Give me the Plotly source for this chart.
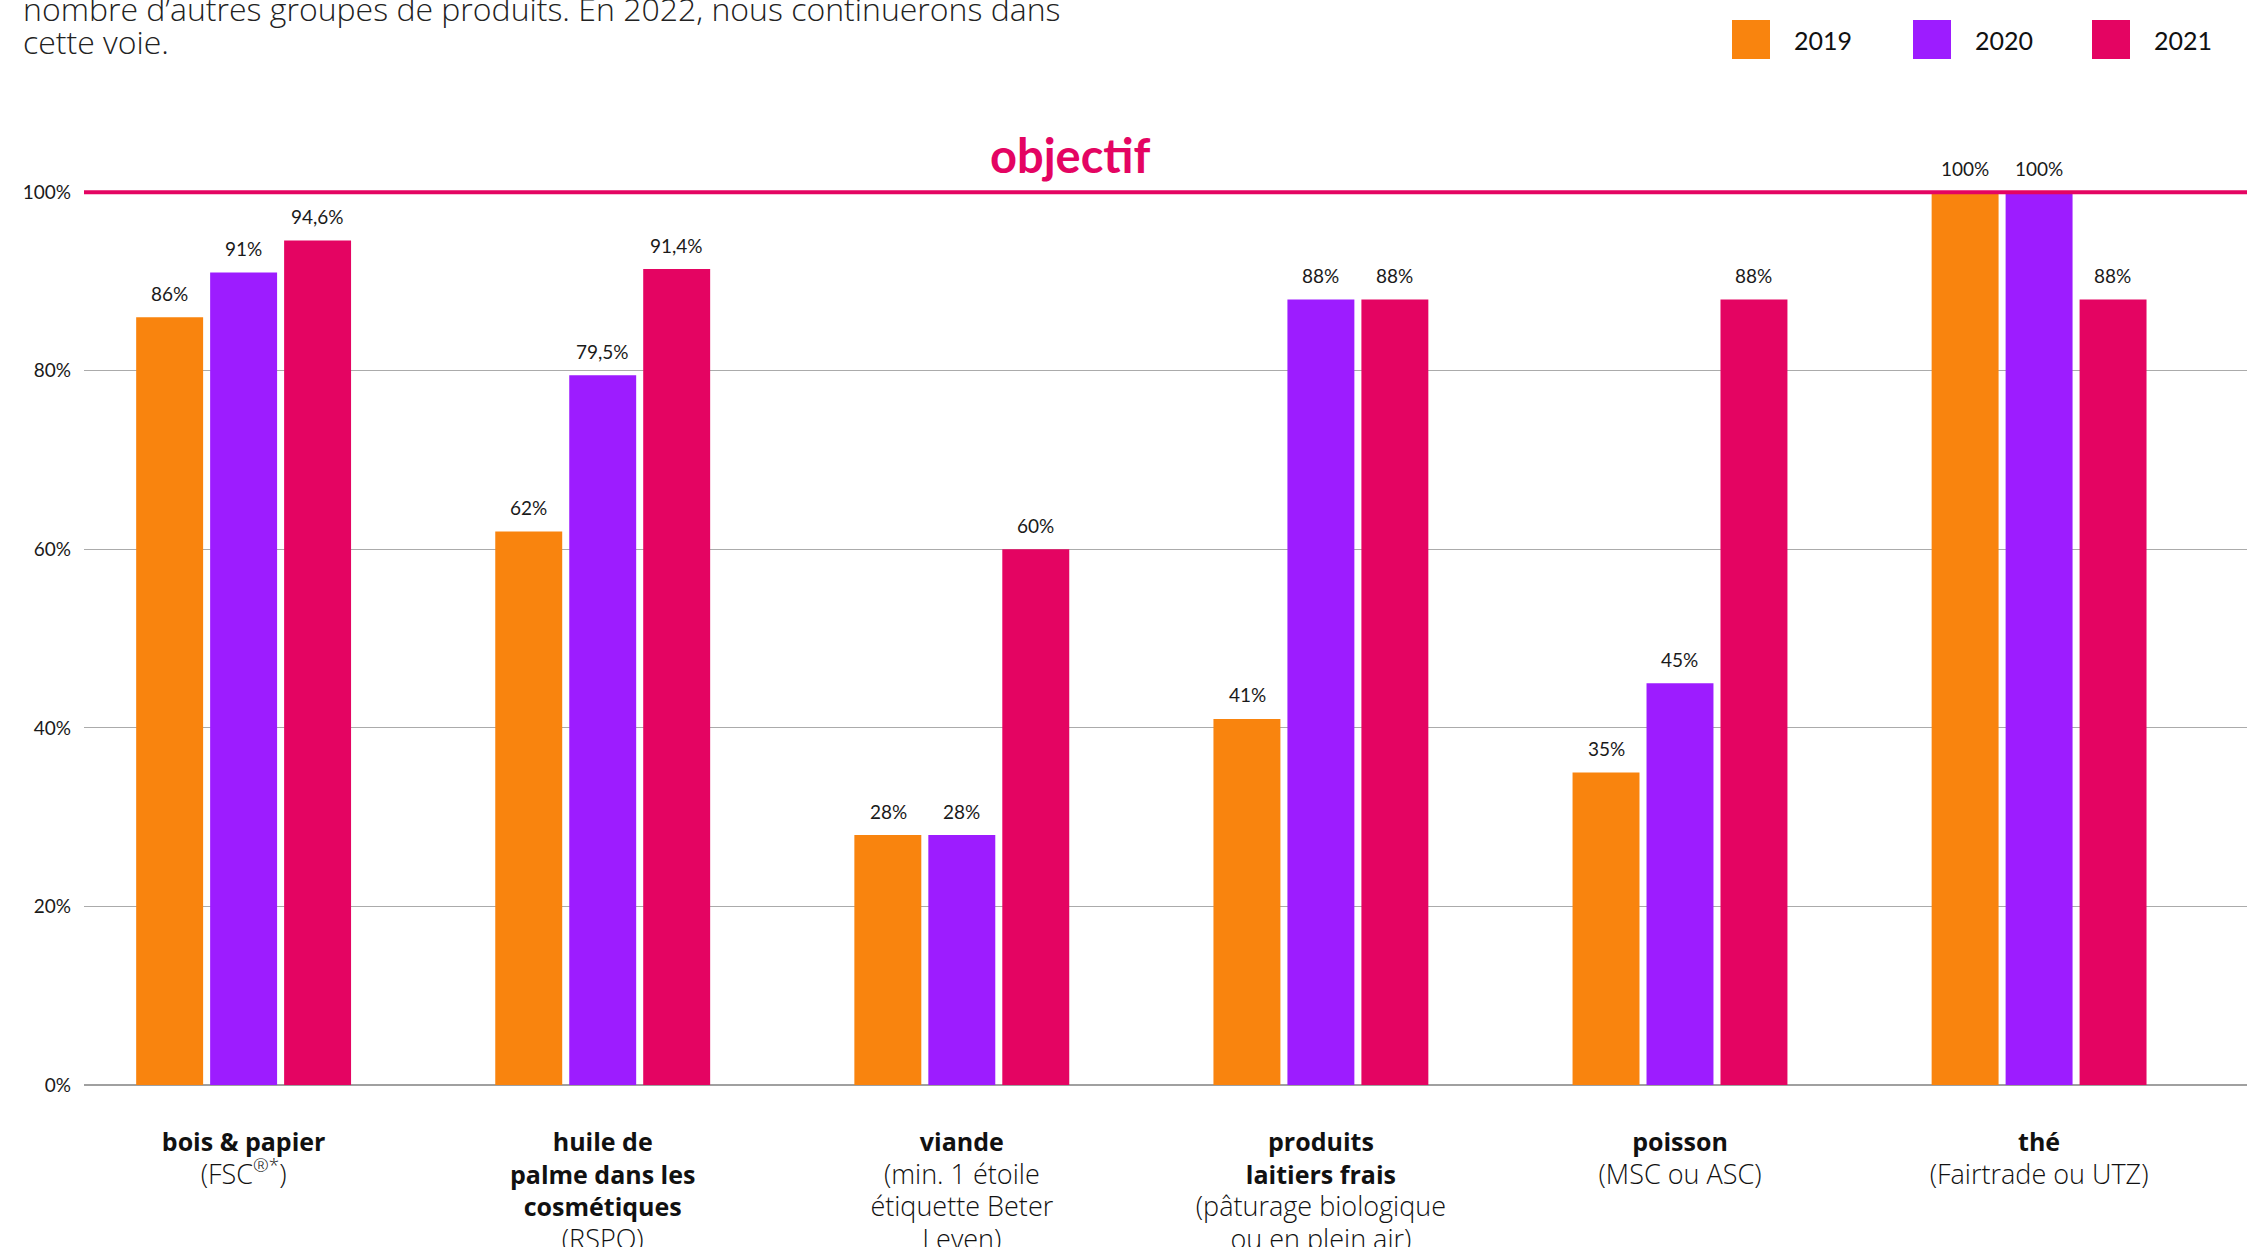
import plotly.graph_objects as go

# ---------------- data ----------------
categories = ["bois & papier", "huile de palme", "viande", "produits laitiers frais", "poisson", "thé"]
cat_bold_lines = [
    ["bois & papier"],
    ["huile de", "palme dans les", "cosmétiques"],
    ["viande"],
    ["produits", "laitiers frais"],
    ["poisson"],
    ["thé"],
]
cat_sub_lines = [
    ["(FSC<sup>®*</sup>)"],
    ["(RSPO)"],
    ["(min. 1 étoile", "étiquette Beter", "Leven)"],
    ["(pâturage biologique", "ou en plein air)"],
    ["(MSC ou ASC)"],
    ["(Fairtrade ou UTZ)"],
]
years = ["2019", "2020", "2021"]
values_2019 = [86, 62, 28, 41, 35, 100]
values_2020 = [91, 79.5, 28, 88, 45, 100]
values_2021 = [94.6, 91.4, 60, 88, 88, 88]
series_values = [values_2019, values_2020, values_2021]
colors = ["#F9840E", "#9D1CFF", "#E40462"]
y_ticks = [0, 20, 40, 60, 80, 100]
objective = 100
intro_lines = ["nombre d’autres groupes de produits. En 2022, nous continuerons dans",
               "cette voie."]

# ---------------- layout geometry ----------------
W, H = 2247, 1247
ML, MR, MT, MB = 84, 0, 103, 162
PW, PH = W - ML - MR, H - MT - MB
SLOT_PX = 73.8  # width of one bar slot inside a group (px)


def px2paper_x(px):
    return (px - ML) / PW


def px2paper_y(py):
    return (H - MB - py) / PH


def fmt(v):
    return f"{v:g}".replace(".", ",") + "%"


ticktext = []
for bl, sl in zip(cat_bold_lines, cat_sub_lines):
    ticktext.append("<br>".join(f"<b>{l}</b>" for l in bl) + "<br>"
                    + "<br>".join(f"<span style='font-size:27px'>{l}</span>" for l in sl))

fig = go.Figure()
for name, vals, col in zip(years, series_values, colors):
    fig.add_trace(go.Bar(
        x=categories, y=vals, name=name,
        marker=dict(color=col, line=dict(width=0)),
        showlegend=False, hoverinfo="skip",
    ))

annotations = []
# bar value labels
for j, vals in enumerate(series_values):
    for cat, v in zip(categories, vals):
        annotations.append(dict(
            x=cat, y=v, xref="x", yref="y", text=fmt(v), showarrow=False,
            xshift=(j - 1) * SLOT_PX, yshift=24, yanchor="middle",
            font=dict(family="Lato", size=19, color="#1a1a1a"),
        ))

# objective label
annotations.append(dict(
    x=px2paper_x(1070), y=104.2, xref="paper", yref="y", text="<b>objectif</b>",
    showarrow=False, xanchor="center", yanchor="middle",
    font=dict(family="Lato", size=47, color="#E40462"),
))

# intro text (first line cut at top of page)
for line, cy in zip(intro_lines, [9, 42]):
    annotations.append(dict(
        x=px2paper_x(21), y=px2paper_y(cy), xref="paper", yref="paper", text=line,
        showarrow=False, xanchor="left", yanchor="middle", align="left",
        font=dict(family="Open Sans", size=32, color="#222222", weight=300),
    ))

# custom legend
shapes = []
legend_sq_x = [1732, 1913, 2092]
for name, col, sx in zip(years, colors, legend_sq_x):
    shapes.append(dict(
        type="rect", xref="paper", yref="paper",
        x0=px2paper_x(sx), x1=px2paper_x(sx + 38),
        y0=px2paper_y(59), y1=px2paper_y(20),
        fillcolor=col, line=dict(width=0),
    ))
    annotations.append(dict(
        x=px2paper_x(sx + 60), y=px2paper_y(40), xref="paper", yref="paper",
        text=name, showarrow=False, xanchor="left", yanchor="middle",
        font=dict(family="Lato", size=25, color="#111111"),
    ))

# objective line
shapes.append(dict(
    type="line", xref="paper", yref="y", x0=0, x1=1, y0=objective, y1=objective,
    line=dict(color="#E40462", width=4), layer="above",
))

fig.update_layout(
    width=W, height=H,
    margin=dict(l=ML, r=MR, t=MT, b=MB, pad=0),
    paper_bgcolor="white", plot_bgcolor="white",
    barmode="group", bargap=0.382, bargroupgap=0.095,
    annotations=annotations, shapes=shapes,
    xaxis=dict(
        type="category", range=[-0.4445, 5.579], automargin=False,
        tickmode="array", tickvals=categories, ticktext=ticktext,
        tickfont=dict(family="Open Sans", size=25, color="#111111", weight=300),
        showgrid=False, showline=False, ticks="", ticklabelstandoff=40,
        fixedrange=True,
    ),
    yaxis=dict(
        range=[0, 110], automargin=False,
        tickmode="array", tickvals=y_ticks, ticktext=[f"{v}%" for v in y_ticks],
        tickfont=dict(family="Lato", size=19, color="#1a1a1a"),
        showgrid=True, gridcolor="#ABABAB", gridwidth=1.3,
        zeroline=True, zerolinecolor="#A0A0A0", zerolinewidth=2,
        showline=False, ticks="", ticklabelstandoff=12, fixedrange=True,
    ),
    showlegend=False,
)

fig.write_html("out.html", config={"displayModeBar": False},
               post_script="document.body.style.margin='0';")
